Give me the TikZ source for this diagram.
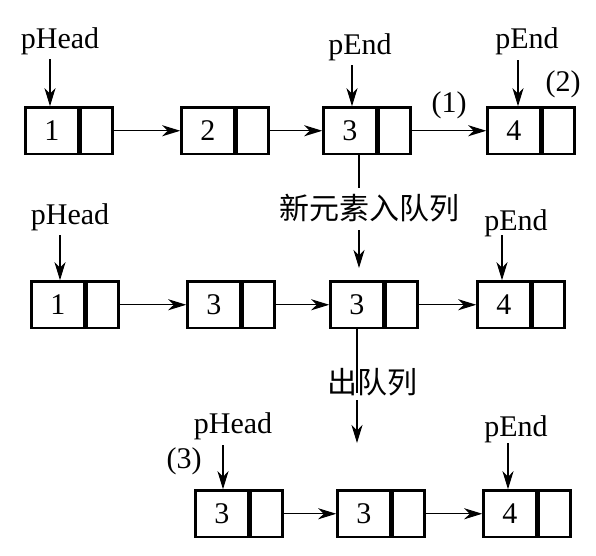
\documentclass[tikz,border=0pt]{standalone}
\usepackage{fontspec}
\setmainfont{Liberation Serif}
\newfontfamily\cjk{Noto Sans CJK SC}
\usetikzlibrary{arrows.meta}
\tikzset{
  cell/.style={draw, line width=2.5pt, minimum height=46.5pt, inner sep=0pt, font=\fontsize{30}{36}\selectfont},
  datapart/.style={cell, minimum width=52.75pt, anchor=north west},
  ptrpart/.style={cell, minimum width=31.75pt, anchor=west},
  arr/.style={line width=1.3pt, -{Stealth[length=18pt, width=11pt, inset=5.5pt]}},
  ln/.style={line width=1.3pt},
  lbl/.style={anchor=base, inner sep=0pt, font=\fontsize{30}{36}\selectfont},
  cnlbl/.style={anchor=base, inner sep=0pt, font=\cjk\fontsize{30}{36}\selectfont},
}
\begin{document}
\begin{tikzpicture}[x=1pt, y=-1pt]
\useasboundingbox (0,0) rectangle (596,555);
% row 1
\node[datapart] (a1) at (24.25,106.25) {1}; \node[ptrpart] (a1p) at (a1.east) {};
\node[datapart] (a2) at (180.25,106.25) {2}; \node[ptrpart] (a2p) at (a2.east) {};
\node[datapart] (a3) at (322.25,106.25) {3}; \node[ptrpart] (a3p) at (a3.east) {};
\node[datapart] (a4) at (486.25,106.25) {4}; \node[ptrpart] (a4p) at (a4.east) {};
\draw[arr] (a1p.east) -- (a2.west);
\draw[arr] (a2p.east) -- (a3.west);
\draw[arr] (a3p.east) -- (a4.west);
\node[lbl] (ph1) at (60,48) {pHead};
\node[lbl] (pe1) at (360,54) {pEnd};
\node[lbl] (pe2) at (527,48) {pEnd};
\node[lbl] (n2) at (563,91) {(2)};
\node[lbl] (n1) at (449,112) {(1)};
\coordinate (s1) at (50,59);
\coordinate (s2) at (352,65);
\coordinate (s3) at (518,60);
\draw[arr] (s1) -- (a1.north -| s1);
\draw[arr] (s2) -- (a3.north -| s2);
\draw[arr] (s3) -- (a4.north -| s3);
% transition 1
\node[cnlbl] (t1) at (369,219) {新元素入队列};
\coordinate (v1a) at (359,188);
\coordinate (v1b) at (359,230);
\coordinate (v1c) at (359,268);
\draw[ln] (a3.south -| v1a) -- (v1a);
\draw[arr] (v1b) -- (v1c);
% row 2
\node[datapart] (b1) at (30.25,280.25) {1}; \node[ptrpart] (b1p) at (b1.east) {};
\node[datapart] (b2) at (186.25,280.25) {3}; \node[ptrpart] (b2p) at (b2.east) {};
\node[datapart] (b3) at (329.25,280.25) {3}; \node[ptrpart] (b3p) at (b3.east) {};
\node[datapart] (b4) at (476.25,280.25) {4}; \node[ptrpart] (b4p) at (b4.east) {};
\draw[arr] (b1p.east) -- (b2.west);
\draw[arr] (b2p.east) -- (b3.west);
\draw[arr] (b3p.east) -- (b4.west);
\node[lbl] (ph2) at (70,224) {pHead};
\node[lbl] (pe3) at (516,230) {pEnd};
\coordinate (s4) at (60,235);
\coordinate (s5) at (502,235);
\draw[arr] (s4) -- (b1.north -| s4);
\draw[arr] (s5) -- (b4.north -| s5);
% transition 2
\node[cnlbl] (t2) at (372,393) {出队列};
\coordinate (v2a) at (357,393);
\coordinate (v2b) at (357,400);
\coordinate (v2c) at (357,443);
\draw[ln] (b3.south -| v2a) -- (v2a);
\draw[arr] (v2b) -- (v2c);
% row 3
\node[datapart] (c1) at (194.25,489.25) {3}; \node[ptrpart] (c1p) at (c1.east) {};
\node[datapart] (c2) at (336.25,489.25) {3}; \node[ptrpart] (c2p) at (c2.east) {};
\node[datapart] (c3) at (482.25,489.25) {4}; \node[ptrpart] (c3p) at (c3.east) {};
\draw[arr] (c1p.east) -- (c2.west);
\draw[arr] (c2p.east) -- (c3.west);
\node[lbl] (ph3) at (233,433) {pHead};
\node[lbl] (n3) at (184,468) {(3)};
\node[lbl] (pe4) at (516,436) {pEnd};
\coordinate (s6) at (223,445);
\coordinate (s7) at (508,443);
\draw[arr] (s6) -- (c1.north -| s6);
\draw[arr] (s7) -- (c3.north -| s7);
\end{tikzpicture}
\end{document}
